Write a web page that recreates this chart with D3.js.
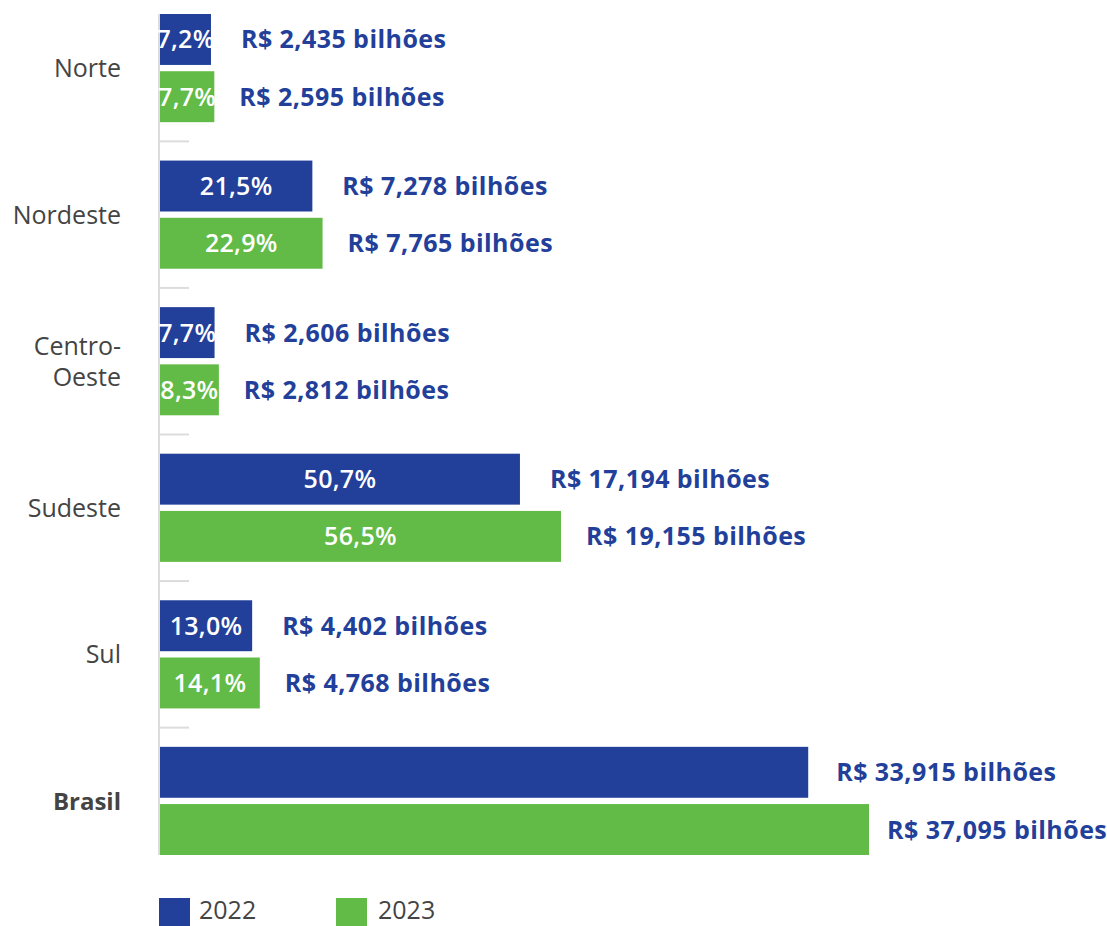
<!DOCTYPE html>
<html><head><meta charset="utf-8">
<script src="https://cdn.jsdelivr.net/npm/d3@7"></script>
<style>
html,body{margin:0;padding:0;background:#fff;}
svg{display:block;font-family:"Open Sans", Lato, sans-serif;}
</style></head>
<body><svg id="chart" width="1107" height="926"></svg>
<script>
const categories = ["Norte", "Nordeste", "Centro-Oeste", "Sudeste", "Sul", "Brasil"];
const years = ["2022", "2023"];
const values2022 = [2.435, 7.278, 2.606, 17.194, 4.402, 33.915];
const values2023 = [2.595, 7.765, 2.812, 19.155, 4.768, 37.095];
const pct2022 = ["7,2%", "21,5%", "7,7%", "50,7%", "13,0%", null];
const pct2023 = ["7,7%", "22,9%", "8,3%", "56,5%", "14,1%", null];
const valueLabels2022 = ["R$ 2,435 bilhões", "R$ 7,278 bilhões", "R$ 2,606 bilhões", "R$ 17,194 bilhões", "R$ 4,402 bilhões", "R$ 33,915 bilhões"];
const valueLabels2023 = ["R$ 2,595 bilhões", "R$ 7,765 bilhões", "R$ 2,812 bilhões", "R$ 19,155 bilhões", "R$ 4,768 bilhões", "R$ 37,095 bilhões"];

const BLUE = "#22409a", GREEN = "#61bb46", GREY = "#444";
const colors = {"2022": BLUE, "2023": GREEN};

const svg = d3.select("#chart");
const x0 = 160;
// regions and the national total are drawn on separate scales, as in the source
const xRegion = d3.scaleLinear().domain([0, 19.155]).range([x0, x0 + 401]);
const xTotal = d3.scaleLinear().domain([0, 37.095]).range([x0, x0 + 709]);
const xFor = c => c === "Brasil" ? xTotal : xRegion;
// gap between bar end and value label
const labelGap = (c, yr) => c === "Brasil" ? (yr === "2022" ? 28 : 18) : (yr === "2022" ? 30 : 25);

const y = d3.scaleBand().domain(categories).range([14, 855]).paddingInner(0.262).paddingOuter(0);
const yIn = d3.scaleBand().domain(years).range([0, y.bandwidth()]).paddingInner(0.11);

const rows = [];
categories.forEach((c, i) => {
  rows.push({cat: c, year: "2022", v: values2022[i], pct: pct2022[i], lab: valueLabels2022[i]});
  rows.push({cat: c, year: "2023", v: values2023[i], pct: pct2023[i], lab: valueLabels2023[i]});
});

// axis line
svg.append("line").attr("x1", 159).attr("x2", 159).attr("y1", 14).attr("y2", 855)
  .attr("stroke", "#dcdcdc").attr("stroke-width", 2);
// separator ticks between groups
categories.slice(0, -1).forEach((c, i) => {
  const yy = (y(c) + y.bandwidth() + y(categories[i + 1])) / 2;
  svg.append("line").attr("x1", 159).attr("x2", 189).attr("y1", yy).attr("y2", yy)
    .attr("stroke", "#dcdcdc").attr("stroke-width", 2);
});

const g = svg.append("g");
g.selectAll("rect.bar").data(rows).join("rect").attr("class", "bar")
  .attr("x", x0)
  .attr("y", d => y(d.cat) + yIn(d.year))
  .attr("width", d => xFor(d.cat)(d.v) - x0)
  .attr("height", yIn.bandwidth())
  .attr("fill", d => colors[d.year]);

g.selectAll("text.pct").data(rows.filter(d => d.pct)).join("text").attr("class", "pct")
  .attr("x", d => (x0 + xFor(d.cat)(d.v)) / 2)
  .attr("y", d => y(d.cat) + yIn(d.year) + yIn.bandwidth() / 2)
  .attr("dy", "0.36em").attr("text-anchor", "middle")
  .attr("fill", "#fff").attr("font-size", 25).attr("font-weight", 600)
  .attr("letter-spacing", 0.3)
  .text(d => d.pct);

g.selectAll("text.val").data(rows).join("text").attr("class", "val")
  .attr("x", d => xFor(d.cat)(d.v) + labelGap(d.cat, d.year))
  .attr("y", d => y(d.cat) + yIn(d.year) + yIn.bandwidth() / 2)
  .attr("dy", "0.36em")
  .attr("fill", BLUE).attr("font-size", 25).attr("font-weight", 700)
  .attr("letter-spacing", 0.45)
  .text(d => d.lab);

// category labels
categories.forEach(c => {
  const cy = y(c) + y.bandwidth() / 2;
  const t = svg.append("text").attr("x", 121).attr("text-anchor", "end")
    .attr("fill", GREY).attr("font-size", c === "Brasil" ? 24 : 25)
    .attr("font-weight", c === "Brasil" ? 700 : 400);
  if (c === "Centro-Oeste") {
    t.append("tspan").attr("x", 121).attr("y", cy - 15.5).attr("dy", "0.36em").text("Centro-");
    t.append("tspan").attr("x", 121).attr("y", cy + 15.5).attr("dy", "0.36em").text("Oeste");
  } else {
    t.attr("y", cy).attr("dy", "0.36em").text(c);
  }
});

// legend
const leg = svg.append("g");
[["2022", 159, 199], ["2023", 336, 378]].forEach(([yr, rx, tx]) => {
  leg.append("rect").attr("x", rx).attr("y", 898).attr("width", 31).attr("height", 28).attr("fill", colors[yr]);
  leg.append("text").attr("x", tx).attr("y", 918.5)
    .attr("fill", GREY).attr("font-size", 25).attr("font-weight", 400).text(yr);
});
</script></body></html>
